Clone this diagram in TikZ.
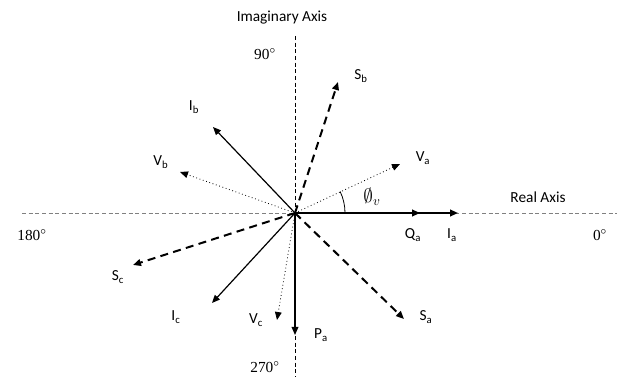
\documentclass[tikz,border=0pt]{standalone}
\usepackage{fontspec}
\setmainfont{Carlito}
\newfontfamily\degfont{Liberation Serif}
\usetikzlibrary{arrows.meta}

\tikzset{
	axisline/.style={densely dashed, thin},
	current/.style={-{Triangle[length=6pt, width=5pt]}, line width=0.9pt},
	voltage/.style={-{Triangle[length=6pt, width=5pt]}, dotted, line width=0.6pt},
	power/.style={-{Triangle[length=6pt, width=5pt]}, line width=1.5pt, dash pattern=on 6pt off 4pt},
	lbl/.style={inner sep=1pt, font=\fontsize{11.5}{13}\selectfont}
}

\begin{document}
\begin{tikzpicture}[x=0.75pt, y=-0.75pt]
	\useasboundingbox (0,0) rectangle (617,377);
	% origin and axes
	\coordinate (O) at (295,213);
	\coordinate (west) at (22,213);
	\coordinate (east) at (617,213);
	\coordinate (north) at (295,36);
	\coordinate (south) at (295,377);
	\draw[axisline, gray] (west) -- (east);
	\draw[axisline] (north) -- (south);
	\node[lbl] (imag) at (282,18) {Imaginary Axis};
	\node[lbl] (real) at (538,197) {Real Axis};
	\node[lbl, font=\degfont\fontsize{11.5}{13}\selectfont] (d90) at (265,54) {90$^{\circ}$};
	\node[lbl, font=\degfont\fontsize{11.5}{13}\selectfont] (d180) at (32,235) {180$^{\circ}$};
	\node[lbl, font=\degfont\fontsize{11.5}{13}\selectfont] (d0) at (600,235) {0$^{\circ}$};
	\node[lbl, font=\degfont\fontsize{11.5}{13}\selectfont] (d270) at (265,367) {270$^{\circ}$};
	% vector tips
	\coordinate (Ia) at (458,213);
	\coordinate (Qa) at (420,213);
	\coordinate (Pa) at (295,335);
	\coordinate (Va) at (400,164);
	\coordinate (Sa) at (404,319);
	\coordinate (Ib) at (213,127);
	\coordinate (Vb) at (180,172);
	\coordinate (Sb) at (338,82);
	\coordinate (Ic) at (212,303);
	\coordinate (Vc) at (277,320);
	\coordinate (Sc) at (133,265);
	% currents
	\draw[current] (O) -- (Ib);
	\draw[current] (O) -- (Ic);
	\draw[current] (O) -- (Pa);
	\draw[current, line width=1.4pt] (O) -- (Ia);
	\draw[current, line width=1.4pt] (O) -- (Qa);
	% voltages
	\draw[voltage] (O) -- (Va);
	\draw[voltage] (O) -- (Vb);
	\draw[voltage] (O) -- (Vc);
	% powers
	\draw[power] (O) -- (Sa);
	\draw[power] (O) -- (Sb);
	\draw[power] (O) -- (Sc);
	% angle
	\draw[line width=0.6pt] ([xshift=37.5pt]O) arc[start angle=0, end angle=25.5, radius=37.5pt];
	\node[lbl, font=\fontsize{14}{16}\selectfont] (phi) at (372,197) {$\emptyset_{v}$};
	% labels
	\node[lbl] (lIa) at (452,235) {I\textsubscript{a}};
	\node[lbl] (lQa) at (413,235) {Q\textsubscript{a}};
	\node[lbl] (lPa) at (321,335) {P\textsubscript{a}};
	\node[lbl] (lSa) at (426,317) {S\textsubscript{a}};
	\node[lbl] (lVa) at (423,158) {V\textsubscript{a}};
	\node[lbl] (lSb) at (361,76) {S\textsubscript{b}};
	\node[lbl] (lIb) at (194,107) {I\textsubscript{b}};
	\node[lbl] (lVb) at (161,162) {V\textsubscript{b}};
	\node[lbl] (lSc) at (118,277) {S\textsubscript{c}};
	\node[lbl] (lIc) at (176,317) {I\textsubscript{c}};
	\node[lbl] (lVc) at (256,320) {V\textsubscript{c}};
\end{tikzpicture}
\end{document}
